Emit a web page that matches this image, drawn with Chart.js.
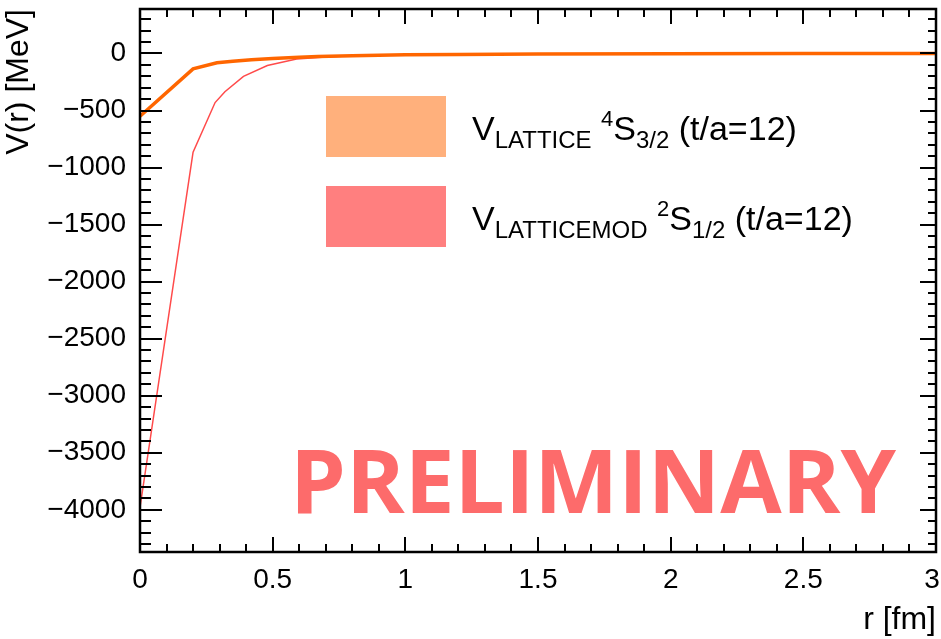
<!DOCTYPE html>
<html>
<head>
<meta charset="utf-8">
<script src="https://cdn.jsdelivr.net/npm/chart.js@4.4.1/dist/chart.umd.min.js"></script>
<style>
  html, body { margin: 0; padding: 0; background: #ffffff; }
  #wrap { width: 941px; height: 639px; }
</style>
</head>
<body>
<div id="wrap"><canvas id="c" width="941" height="639"></canvas></div>
<script>
// Potential V(r) in MeV versus separation r in fm
const rLattice    = [0, 0.2, 0.29, 0.35, 0.42, 0.5, 0.6, 0.67, 0.8, 1.0, 1.2, 1.5, 2.0, 2.5, 3.0];
const vLattice    = [-550, -135, -82, -68, -54, -45, -34, -27, -19, -12, -8, -5, -2, -1, 0];
const rLatticeMod = [0, 0.2, 0.283, 0.32, 0.39, 0.48, 0.59, 0.7, 0.8, 1.0, 1.2, 1.5, 2.0, 2.5, 3.0];
const vLatticeMod = [-3980, -865, -430, -335, -200, -105, -48, -30, -20, -12, -8, -5, -2, -1, 0];

const xTickValues = [0, 0.5, 1, 1.5, 2, 2.5, 3];
const yTickValues = [0, -500, -1000, -1500, -2000, -2500, -3000, -3500, -4000];

// Legend labels as rich-text runs: [text, role] with role main / sub / sup
const labelLattice    = [['V', 'main'], ['LATTICE', 'sub'], [' ', 'main'], ['4', 'sup'], ['S', 'main'], ['3/2', 'sub'], [' (t/a=12)', 'main']];
const labelLatticeMod = [['V', 'main'], ['LATTICEMOD', 'sub'], [' ', 'main'], ['2', 'sup'], ['S', 'main'], ['1/2', 'sub'], [' (t/a=12)', 'main']];

const FONT = '"Liberation Sans", Arial, Helvetica, sans-serif';

const pts = (xs, ys) => xs.map((x, i) => ({ x: x, y: ys[i] }));

// Frame, inward tick marks, legend and watermark
const decorations = {
  id: 'decorations',
  afterDatasetsDraw(chart) {
    const ctx = chart.ctx;
    const a = chart.chartArea;
    const xs = chart.scales.x, ys = chart.scales.y;
    ctx.save();
    ctx.strokeStyle = '#000';
    ctx.lineWidth = 2;
    ctx.beginPath();
    // y ticks every 100, major every 500
    for (let v = -4300; v <= 300; v += 100) {
      const y = Math.round(ys.getPixelForValue(v));
      const major = v % 500 === 0;
      ctx.moveTo(a.left, y); ctx.lineTo(a.left + (major ? 22 : 11), y);
      ctx.moveTo(a.right, y); ctx.lineTo(a.right - (major ? 16 : 8), y);
    }
    // x ticks every 0.1, major every 0.5
    for (let k = 1; k < 30; k++) {
      const x = Math.round(xs.getPixelForValue(k / 10));
      const major = k % 5 === 0;
      ctx.moveTo(x, a.bottom); ctx.lineTo(x, a.bottom - (major ? 15 : 8));
      ctx.moveTo(x, a.top); ctx.lineTo(x, a.top + (major ? 15 : 8));
    }
    ctx.stroke();
    ctx.lineWidth = 2.5;
    ctx.strokeRect(a.left, a.top, a.right - a.left, a.bottom - a.top);

    // legend
    const entries = [
      { color: '#ffb07c', runs: labelLattice, top: 96 },
      { color: '#ff7f7f', runs: labelLatticeMod, top: 186 }
    ];
    const size = { main: 34, sub: 24, sup: 22 };
    const shift = { main: 0, sub: 8, sup: -14 };
    ctx.textBaseline = 'alphabetic';
    ctx.textAlign = 'left';
    for (const e of entries) {
      ctx.fillStyle = e.color;
      ctx.fillRect(326, e.top, 120, 61);
      let x = 472;
      const base = e.top + 44;
      ctx.fillStyle = '#000';
      for (const [t, role] of e.runs) {
        ctx.font = size[role] + 'px ' + FONT;
        ctx.fillText(t, x, base + shift[role]);
        x += ctx.measureText(t).width;
      }
    }

    // watermark
    ctx.font = 'bold 88px "Open Sans", "DejaVu Sans", sans-serif';
    const word = 'PRELIMINARY';
    const w = ctx.measureText(word).width;
    ctx.fillStyle = '#fd6b6b';
    ctx.translate(290, 513);
    ctx.scale(606 / w, 1);
    ctx.fillText(word, 0, 0);
    ctx.restore();
  }
};

new Chart(document.getElementById('c'), {
  type: 'line',
  data: {
    datasets: [
      {
        label: 'V_LATTICE 4S3/2 (t/a=12)',
        data: pts(rLattice, vLattice),
        borderColor: '#ff6600',
        borderWidth: 3.5,
        pointRadius: 0,
        tension: 0,
        fill: false
      },
      {
        label: 'V_LATTICEMOD 2S1/2 (t/a=12)',
        data: pts(rLatticeMod, vLatticeMod),
        borderColor: '#ff4a4a',
        borderWidth: 1.5,
        pointRadius: 0,
        tension: 0,
        fill: false
      }
    ]
  },
  options: {
    responsive: false,
    animation: false,
    devicePixelRatio: 1,
    layout: { padding: { top: 9, right: 5, left: 0, bottom: 0 } },
    plugins: { legend: { display: false }, tooltip: { enabled: false } },
    scales: {
      x: {
        type: 'linear',
        min: 0, max: 3,
        afterBuildTicks: s => { s.ticks = xTickValues.map(v => ({ value: v })); },
        afterFit: s => { s.height = 87; s.paddingLeft = 0; s.paddingRight = 0; },
        grid: { display: false },
        border: { display: false },
        ticks: { color: '#000', font: { family: FONT, size: 28 }, padding: 3, maxRotation: 0,
                 // the last label sits at the canvas edge, so nudge it inward
                 callback: v => v === 3 ? '3 ' : String(v) },
        title: { display: true, text: 'r [fm]', align: 'end', color: '#000',
                 font: { family: FONT, size: 32 }, padding: { top: 0, bottom: 0 } }
      },
      y: {
        type: 'linear',
        min: -4370, max: 390,
        afterBuildTicks: s => { s.ticks = yTickValues.map(v => ({ value: v })); },
        afterFit: s => { s.width = 140; s.paddingTop = 0; s.paddingBottom = 0; },
        grid: { display: false },
        border: { display: false },
        ticks: { color: '#000', font: { family: FONT, size: 28 }, padding: 6,
                 callback: v => v < 0 ? '\u2212' + Math.abs(v) : String(v) },
        title: { display: true, text: 'V(r) [MeV]', align: 'end', color: '#000',
                 font: { family: FONT, size: 32 }, padding: { top: 0, bottom: 0 } }
      }
    }
  },
  plugins: [decorations]
});
</script>
</body>
</html>
